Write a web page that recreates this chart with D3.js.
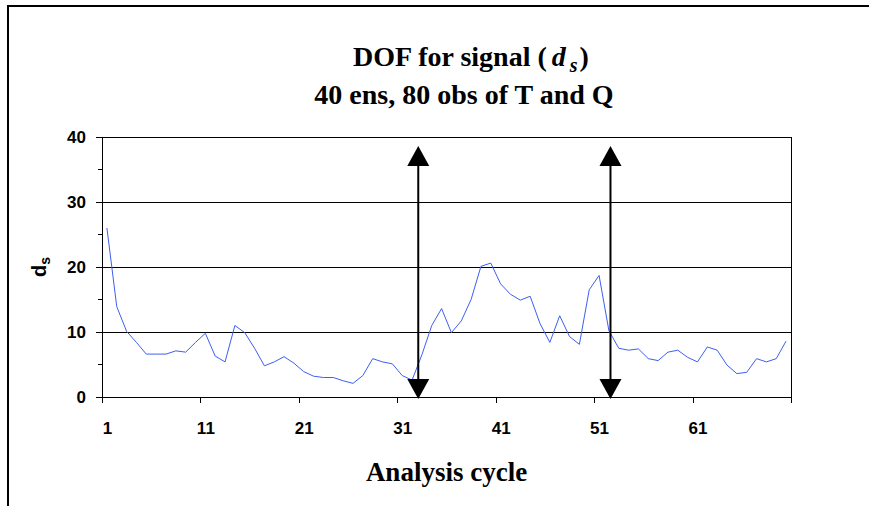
<!DOCTYPE html>
<html>
<head>
<meta charset="utf-8">
<script src="https://cdn.jsdelivr.net/npm/d3@7"></script>
<style>
  body { margin: 0; background: #fff; }
  svg { display: block; }
  .title { font-family: "Liberation Serif", "Times New Roman", serif; font-weight: bold; fill: #000; }
</style>
</head>
<body>
<svg id="chart" width="869" height="506"></svg>
<script>
// analysis cycle numbers and d_s values
var cycles = d3.range(1, 71)
var dsValues = [
  26.0, 13.9, 10.1, 8.4, 6.6, 6.6, 6.6, 7.1, 6.9, 8.4,
  9.8, 6.3, 5.4, 11.0, 9.9, 7.5, 4.8, 5.4, 6.2, 5.2,
  3.9, 3.2, 3.0, 3.0, 2.5, 2.1, 3.3, 5.9, 5.4, 5.1,
  3.3, 2.6, 6.5, 11.0, 13.6, 9.9, 11.7, 15.0, 20.1, 20.6,
  17.4, 15.8, 14.9, 15.5, 11.3, 8.4, 12.5, 9.3, 8.1, 16.5,
  18.7, 10.2, 7.5, 7.2, 7.4, 5.9, 5.6, 6.9, 7.2, 6.1,
  5.4, 7.7, 7.2, 4.9, 3.6, 3.8, 5.9, 5.4, 5.9, 8.6
]
var xTickLabels = [1, 11, 21, 31, 41, 51, 61]
var yTicks = [0, 10, 20, 30, 40]
var yMinorTicks = [5, 15, 25, 35]
// double-headed arrows marking cycles of interest
var arrowCycles = [32.63, 52.16]
var arrowRange = [-0.3, 38.6]

var svg = d3.select('#chart')
var plotLeft = 102, plotRight = 791, plotTop = 137, plotBottom = 397
var labelFont = '"Liberation Sans", Arial, sans-serif'

// chart area border (runs past the window on the right and bottom)
svg.append('rect')
  .attr('x', 8).attr('y', 6).attr('width', 920).attr('height', 530)
  .attr('fill', '#fff').attr('stroke', '#000').attr('stroke-width', 2)

var x = d3.scaleLinear().domain([0.5, cycles.length + 0.5]).range([plotLeft, plotRight])
var y = d3.scaleLinear().domain([0, 40]).range([plotBottom, plotTop])

// gridlines
svg.append('g')
  .selectAll('line')
  .data(yTicks.slice(1))
  .enter()
  .append('line')
  .attr('x1', plotLeft).attr('x2', plotRight)
  .attr('y1', (d) => y(d)).attr('y2', (d) => y(d))
  .attr('stroke', '#000').attr('stroke-width', 1).attr('shape-rendering', 'crispEdges')

// right plot border
svg.append('line')
  .attr('x1', plotRight).attr('x2', plotRight).attr('y1', plotTop).attr('y2', plotBottom)
  .attr('stroke', '#000').attr('shape-rendering', 'crispEdges')

// y axis
var yAxis = svg.append('g')
  .attr('transform', 'translate(' + plotLeft + ',0)')
  .call(d3.axisLeft(y).tickValues(yTicks).tickSize(6).tickPadding(10).tickFormat(d3.format('d')))
yAxis.selectAll('line, path').attr('stroke', '#000').attr('shape-rendering', 'crispEdges')
yAxis.select('.domain').attr('d', 'M0,' + plotTop + 'V' + plotBottom)

svg.append('g')
  .attr('transform', 'translate(' + plotLeft + ',0)')
  .selectAll('line')
  .data(yMinorTicks)
  .enter()
  .append('line')
  .attr('x1', -4).attr('x2', 0)
  .attr('y1', (d) => y(d)).attr('y2', (d) => y(d))
  .attr('stroke', '#000').attr('shape-rendering', 'crispEdges')

// x axis: ticks between categories, labels under every tenth cycle
var xAxis = svg.append('g')
  .attr('transform', 'translate(0,' + plotBottom + ')')
  .call(d3.axisBottom(x).tickValues(d3.range(0.5, cycles.length + 1, 10)).tickSize(6).tickFormat(''))
xAxis.selectAll('line, path').attr('stroke', '#000').attr('shape-rendering', 'crispEdges')
xAxis.select('.domain').attr('d', 'M' + (plotLeft - 6) + ',0H' + plotRight)

var xLabels = svg.append('g')
  .attr('transform', 'translate(0,' + plotBottom + ')')
  .call(d3.axisBottom(x).tickValues(xTickLabels).tickSize(0).tickPadding(25).tickFormat(d3.format('d')))
xLabels.select('.domain').remove()

svg.selectAll('.tick text')
  .style('font-family', labelFont)
  .style('font-weight', 'bold')
  .style('font-size', '17px')
  .attr('fill', '#000')

// series line
var line = d3.line()
  .x((d, i) => x(cycles[i]))
  .y((d) => y(d))

svg.append('path')
  .datum(dsValues)
  .attr('d', line)
  .attr('fill', 'none')
  .attr('stroke', '#3d5ff0')
  .attr('stroke-width', 1)

// arrows
var arrows = svg.append('g')
arrowCycles.forEach(function (c) {
  var ax = x(c), y0 = y(arrowRange[0]), y1 = y(arrowRange[1])
  arrows.append('line')
    .attr('x1', ax).attr('x2', ax).attr('y1', y1 + 15).attr('y2', y0 - 15)
    .attr('stroke', '#000').attr('stroke-width', 2)
  arrows.append('path')
    .attr('d', 'M' + ax + ',' + y1 + 'L' + (ax - 11) + ',' + (y1 + 20) + 'L' + (ax + 11) + ',' + (y1 + 20) + 'Z')
    .attr('fill', '#000')
  arrows.append('path')
    .attr('d', 'M' + ax + ',' + y0 + 'L' + (ax - 11) + ',' + (y0 - 20) + 'L' + (ax + 11) + ',' + (y0 - 20) + 'Z')
    .attr('fill', '#000')
})

// title
var t1 = svg.append('text').attr('class', 'title')
  .attr('x', 471).attr('y', 66).attr('text-anchor', 'middle').style('font-size', '28px')
t1.append('tspan').text('DOF for signal (')
t1.append('tspan').attr('font-style', 'italic').attr('dx', 5).text('d')
t1.append('tspan').attr('font-style', 'italic').attr('dx', 4).attr('dy', 6).style('font-size', '20px').text('s')
t1.append('tspan').attr('dy', -6).attr('dx', 2).text(')')

svg.append('text').attr('class', 'title')
  .attr('x', 464).attr('y', 104).attr('text-anchor', 'middle').style('font-size', '28px')
  .text('40 ens, 80 obs of T and Q')

// axis titles
svg.append('text').attr('class', 'title')
  .attr('x', (plotLeft + plotRight) / 2).attr('y', 481).attr('text-anchor', 'middle').style('font-size', '27px')
  .text('Analysis cycle')

var yTitle = svg.append('text')
  .attr('transform', 'translate(46,' + ((plotTop + plotBottom) / 2) + ') rotate(-90)')
  .attr('text-anchor', 'middle')
  .style('font-family', labelFont)
  .style('font-weight', 'bold')
  .style('font-size', '20px')
yTitle.append('tspan').text('d')
yTitle.append('tspan').attr('dy', 4).style('font-size', '14px').text('s')
</script>
</body>
</html>
